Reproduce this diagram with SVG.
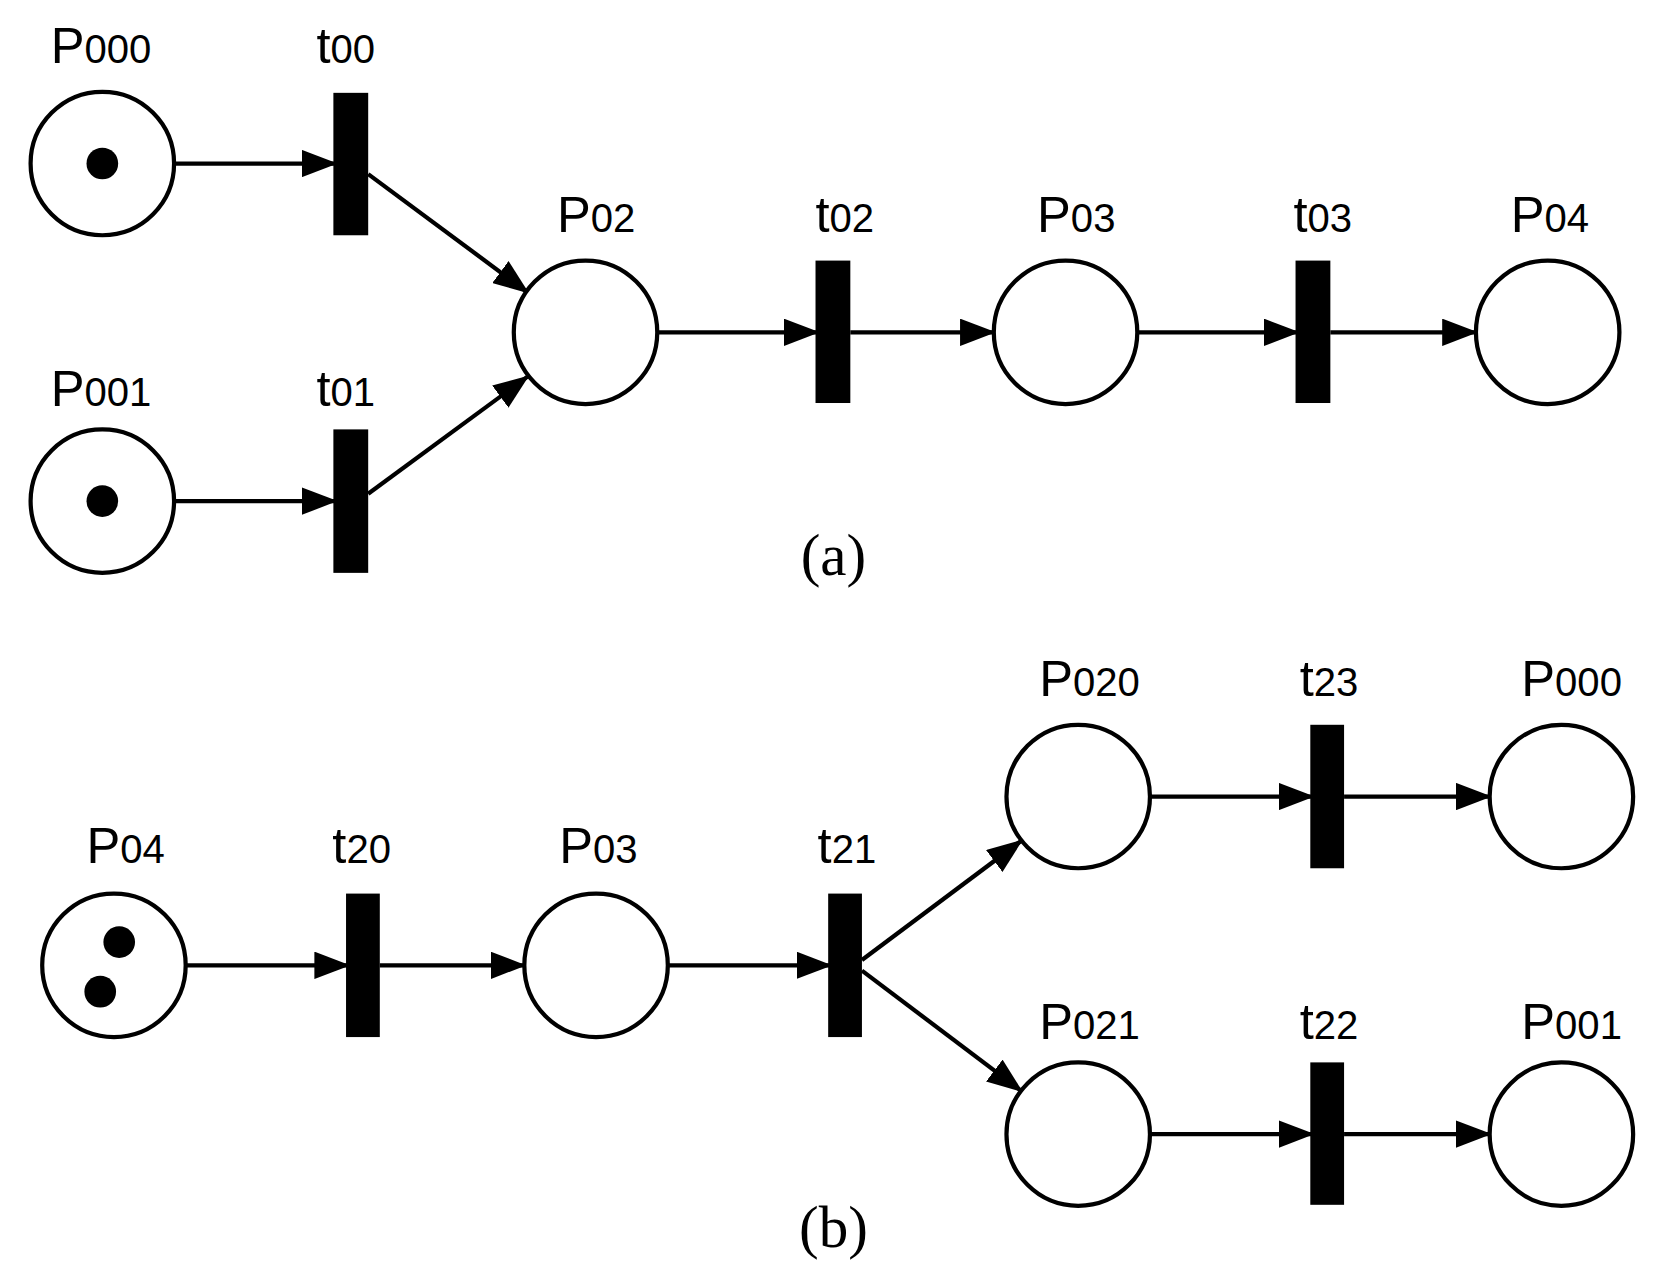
<svg xmlns="http://www.w3.org/2000/svg" width="1653" height="1285" viewBox="0 0 1653 1285">
<style>
.pl{fill:#fff;stroke:#000;stroke-width:4}
.tr{fill:#000}
.tk{fill:#000}
.lb{font-family:"Liberation Sans",Arial,sans-serif;font-size:48px;fill:#000}
.sb{font-size:38px}
.cap{font-family:"Liberation Serif","Times New Roman",serif;font-size:56px;fill:#000}
.ed{stroke:#000;stroke-width:4;fill:none;marker-end:url(#ah)}
</style>
<defs>
<marker id="ah" markerUnits="userSpaceOnUse" markerWidth="34" markerHeight="26" refX="32" refY="13" orient="auto">
<path d="M0,0 L34,13 L0,26 Z" fill="#000"/>
</marker>
</defs>
<rect width="1653" height="1285" fill="#fff"/>
<g transform="scale(1.055)">
<g id="edges">
<line class="ed" x1="165" y1="155" x2="318" y2="155"/>
<line class="ed" x1="165" y1="475" x2="318" y2="475"/>
<line class="ed" x1="349" y1="165" x2="500" y2="277"/>
<line class="ed" x1="349" y1="468" x2="500" y2="357"/>
<line class="ed" x1="623" y1="315" x2="775" y2="315"/>
<line class="ed" x1="806" y1="315" x2="942" y2="315"/>
<line class="ed" x1="1078" y1="315" x2="1230" y2="315"/>
<line class="ed" x1="1261" y1="315" x2="1399" y2="315"/>
<line class="ed" x1="176" y1="915" x2="330" y2="915"/>
<line class="ed" x1="360" y1="915" x2="497" y2="915"/>
<line class="ed" x1="633" y1="915" x2="787" y2="915"/>
<line class="ed" x1="817" y1="910" x2="968" y2="797"/>
<line class="ed" x1="817" y1="920" x2="968" y2="1034"/>
<line class="ed" x1="1090" y1="755" x2="1244" y2="755"/>
<line class="ed" x1="1274" y1="755" x2="1412" y2="755"/>
<line class="ed" x1="1090" y1="1075" x2="1244" y2="1075"/>
<line class="ed" x1="1274" y1="1075" x2="1412" y2="1075"/>
</g>
<g id="a_P000"><circle class="pl" cx="97" cy="155" r="68"/><circle class="tk" cx="97" cy="155" r="15"/><text class="lb" x="48" y="60">P<tspan class="sb">000</tspan></text></g>
<g id="a_P001"><circle class="pl" cx="97" cy="475" r="68"/><circle class="tk" cx="97" cy="475" r="15"/><text class="lb" x="48" y="385">P<tspan class="sb">001</tspan></text></g>
<g id="a_t00"><rect class="tr" x="316" y="88" width="33" height="135"/><text class="lb" x="300" y="60">t<tspan class="sb">00</tspan></text></g>
<g id="a_t01"><rect class="tr" x="316" y="407" width="33" height="136"/><text class="lb" x="300" y="385">t<tspan class="sb">01</tspan></text></g>
<g id="a_P02"><circle class="pl" cx="555" cy="315" r="68"/><text class="lb" x="528" y="220">P<tspan class="sb">02</tspan></text></g>
<g id="a_t02"><rect class="tr" x="773" y="247" width="33" height="135"/><text class="lb" x="773" y="220">t<tspan class="sb">02</tspan></text></g>
<g id="a_P03"><circle class="pl" cx="1010" cy="315" r="68"/><text class="lb" x="983" y="220">P<tspan class="sb">03</tspan></text></g>
<g id="a_t03"><rect class="tr" x="1228" y="247" width="33" height="135"/><text class="lb" x="1226" y="220">t<tspan class="sb">03</tspan></text></g>
<g id="a_P04"><circle class="pl" cx="1467" cy="315" r="68"/><text class="lb" x="1432" y="220">P<tspan class="sb">04</tspan></text></g>
<text class="cap" x="790" y="545" text-anchor="middle">(a)</text>
<g id="b_P04"><circle class="pl" cx="108" cy="915" r="68"/><circle class="tk" cx="113" cy="893" r="15"/><circle class="tk" cx="95" cy="940" r="15"/><text class="lb" x="82" y="818">P<tspan class="sb">04</tspan></text></g>
<g id="b_t20"><rect class="tr" x="328" y="847" width="32" height="136"/><text class="lb" x="315" y="818">t<tspan class="sb">20</tspan></text></g>
<g id="b_P03"><circle class="pl" cx="565" cy="915" r="68"/><text class="lb" x="530" y="818">P<tspan class="sb">03</tspan></text></g>
<g id="b_t21"><rect class="tr" x="785" y="847" width="32" height="136"/><text class="lb" x="775" y="818">t<tspan class="sb">21</tspan></text></g>
<g id="b_P020"><circle class="pl" cx="1022" cy="755" r="68"/><text class="lb" x="985" y="660">P<tspan class="sb">020</tspan></text></g>
<g id="b_t23"><rect class="tr" x="1242" y="687" width="32" height="136"/><text class="lb" x="1232" y="660">t<tspan class="sb">23</tspan></text></g>
<g id="b_P000"><circle class="pl" cx="1480" cy="755" r="68"/><text class="lb" x="1442" y="660">P<tspan class="sb">000</tspan></text></g>
<g id="b_P021"><circle class="pl" cx="1022" cy="1075" r="68"/><text class="lb" x="985" y="985">P<tspan class="sb">021</tspan></text></g>
<g id="b_t22"><rect class="tr" x="1242" y="1007" width="32" height="135"/><text class="lb" x="1232" y="985">t<tspan class="sb">22</tspan></text></g>
<g id="b_P001"><circle class="pl" cx="1480" cy="1075" r="68"/><text class="lb" x="1442" y="985">P<tspan class="sb">001</tspan></text></g>
<text class="cap" x="790" y="1182" text-anchor="middle">(b)</text>
</g>
</svg>
